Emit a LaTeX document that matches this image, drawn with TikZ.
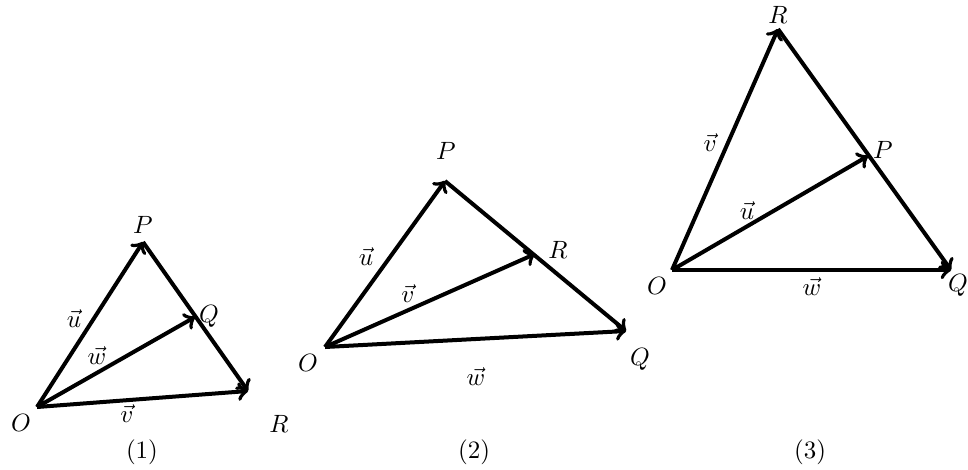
\documentclass[tikz,border=0pt]{standalone}
\usepackage{amsmath,amssymb}
\usepackage{tikz}

\begin{document}
\begin{tikzpicture}[x=0.4pt,y=-0.4pt,
  vec/.style={->, line width=1.6pt},
  lbl/.style={inner sep=1pt}]
  \useasboundingbox (0,0) rectangle (968,469);

  % Figure (1)
  \coordinate (o1) at (37,407);
  \coordinate (p1) at (143,242);
  \coordinate (q1) at (195,317);
  \coordinate (r1) at (248,391);
  \draw[vec] (o1)--(p1);
  \draw[vec] (p1)--(r1);
  \draw[vec] (o1)--(q1);
  \draw[vec] (o1)--(r1);
  \node[lbl] (lo1) at (21,423) {$O$};
  \node[lbl] (lp1) at (143,225) {$P$};
  \node[lbl] (lq1) at (209,316) {$Q$};
  \node[lbl] (lr1) at (279,424) {$R$};
  \node[lbl] (lu1) at (74,319) {$\vec{u}$};
  \node[lbl] (lw1) at (97,356) {$\vec{w}$};
  \node[lbl] (lv1) at (127,414) {$\vec{v}$};
  \node (c1) at (142,452) {(1)};

  % Figure (2)
  \coordinate (o2) at (325,347);
  \coordinate (p2) at (445,181);
  \coordinate (r2) at (535,254);
  \coordinate (q2) at (626,331);
  \draw[vec] (o2)--(p2);
  \draw[vec] (p2)--(q2);
  \draw[vec] (o2)--(r2);
  \draw[vec] (o2)--(q2);
  \node[lbl] (lo2) at (308,363) {$O$};
  \node[lbl] (lp2) at (446,151) {$P$};
  \node[lbl] (lr2) at (558,250) {$R$};
  \node[lbl] (lq2) at (640,359) {$Q$};
  \node[lbl] (lu2) at (366,257) {$\vec{u}$};
  \node[lbl] (lv2) at (408,294) {$\vec{v}$};
  \node[lbl] (lw2) at (476,377) {$\vec{w}$};
  \node (c2) at (474,452) {(2)};

  % Figure (3)
  \coordinate (o3) at (672,270);
  \coordinate (r3) at (778,29);
  \coordinate (p3) at (868,156);
  \coordinate (q3) at (951,270);
  \draw[vec] (o3)--(r3);
  \draw[vec] (r3)--(q3);
  \draw[vec] (o3)--(p3);
  \draw[vec] (o3)--(q3);
  \node[lbl] (lo3) at (657,286) {$O$};
  \node[lbl] (lr3) at (778,15) {$R$};
  \node[lbl] (lp3) at (883,150) {$P$};
  \node[lbl] (lq3) at (958,285) {$Q$};
  \node[lbl] (lv3) at (710,143) {$\vec{v}$};
  \node[lbl] (lu3) at (747,211) {$\vec{u}$};
  \node[lbl] (lw3) at (812,287) {$\vec{w}$};
  \node (c3) at (810,452) {(3)};
\end{tikzpicture}
\end{document}
